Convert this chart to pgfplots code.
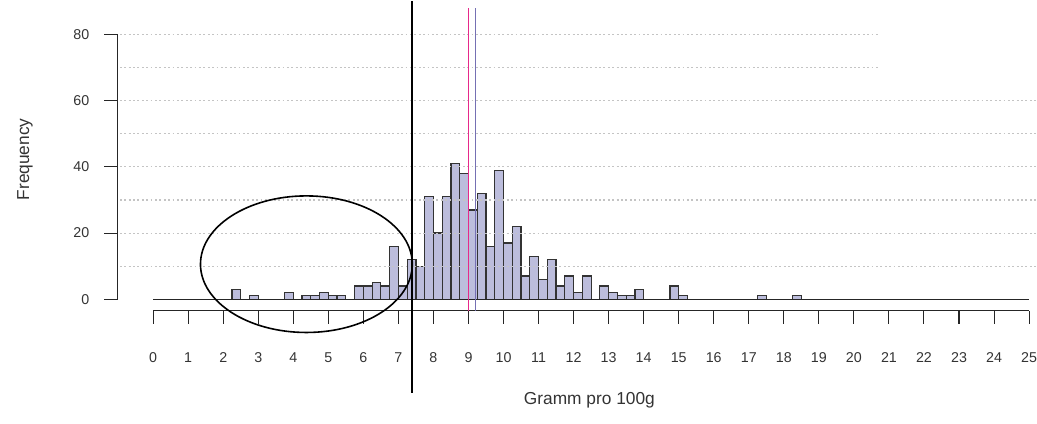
\documentclass[border=0pt]{standalone}
\usepackage{pgfplots}
\pgfplotsset{compat=1.18}
\usepackage{fontspec}
\setmainfont{Liberation Sans}
\definecolor{barfill}{HTML}{BCBDDC}
\definecolor{pinkline}{HTML}{E7298A}
\definecolor{purpline}{HTML}{7570B3}
\definecolor{gridc}{HTML}{C4C4C4}

\begin{document}
\begin{tikzpicture}
\begin{axis}[
  scale only axis, width=657.5pt, height=198.5pt,
  xmin=0, xmax=25, ymin=0, ymax=80,
  axis lines=none, xtick=\empty, ytick=\empty,
  clip=false]
% histogram, bin width 0.25
\addplot[ybar interval, fill=barfill, draw=black!80, line width=0.9pt] coordinates {
(2.25,3) (2.5,0) (2.75,1) (3.0,0) (3.25,0) (3.5,0) (3.75,2) (4.0,0)
(4.25,1) (4.5,1) (4.75,2) (5.0,1) (5.25,1) (5.5,0) (5.75,4) (6.0,4)
(6.25,5) (6.5,4) (6.75,16) (7.0,4) (7.25,12) (7.5,10) (7.75,31) (8.0,20)
(8.25,31) (8.5,41) (8.75,38) (9.0,27) (9.25,32) (9.5,16) (9.75,39) (10.0,17)
(10.25,22) (10.5,7) (10.75,13) (11.0,6) (11.25,12) (11.5,4) (11.75,7) (12.0,2)
(12.25,7) (12.5,0) (12.75,4) (13.0,2) (13.25,1) (13.5,1) (13.75,3) (14.0,0)
(14.25,0) (14.5,0) (14.75,4) (15.0,1) (15.25,0) (15.5,0) (15.75,0) (16.0,0)
(16.25,0) (16.5,0) (16.75,0) (17.0,0) (17.25,1) (17.5,0) (17.75,0) (18.0,0)
(18.25,1) (18.5,0)};
% baseline
\draw[black!85, line width=0.9pt] (axis cs:0,0) -- (axis cs:25,0);
% dotted grid on top
\pgfplotsinvokeforeach{10,20,30,40,50,60}{
  \draw[gridc, line width=0.8pt, dash pattern=on 1.4pt off 1.9pt] (axis cs:-0.95,#1) -- (axis cs:25.2,#1);}
\pgfplotsinvokeforeach{70,80}{
  \draw[gridc, line width=0.8pt, dash pattern=on 1.4pt off 1.9pt] (axis cs:-0.95,#1) -- (axis cs:20.72,#1);}
% y axis
\draw[black!85, line width=0.8pt] (axis cs:-1.007,0) -- (axis cs:-1.007,80);
\pgfplotsinvokeforeach{0,20,40,60,80}{
  \draw[black!85, line width=0.8pt] (axis cs:-1.007,#1) -- ++(-10.5pt,0);
  \node[anchor=east, font=\fontsize{10.7}{12}\selectfont, text=black!80, inner sep=0pt]
    at ([xshift=-21.2pt]axis cs:-1.007,#1) {#1};}
% x axis
\draw[black!85, line width=0.8pt] (axis cs:0,-3.54) -- (axis cs:25,-3.54);
\pgfplotsinvokeforeach{0,...,25}{
  \draw[black!85, line width=0.8pt] (axis cs:#1,-3.54) -- ++(0,-10pt);
  \node[anchor=center, font=\fontsize{10.7}{12}\selectfont, text=black!80, inner sep=0pt]
    at ([yshift=-35pt]axis cs:#1,-3.54) {#1};}
% reference lines
\draw[pinkline, line width=1.4pt] (axis cs:9.0,87.94) -- (axis cs:9.0,-3.54);
\draw[purpline, line width=1.4pt] (axis cs:9.2,87.94) -- (axis cs:9.2,-3.54);
\draw[black, line width=1.75pt] (axis cs:7.39,90.15) -- (axis cs:7.39,-28.3);
% ellipse
\draw[black, line width=1.2pt] (axis cs:4.374,10.58) ellipse [x radius=79.5pt, y radius=51.26pt];
% labels
\node[rotate=90, font=\fontsize{13}{15}\selectfont, text=black!80] at (axis cs:-3.66,42.3) {Frequency};
\node[font=\fontsize{13}{15}\selectfont, text=black!80] at (axis cs:12.45,-30.7) {Gramm pro 100g};
% page extent
\path (axis cs:-4.371,-37.69) rectangle (axis cs:25.198,90.15);
\end{axis}
\end{tikzpicture}
\end{document}
